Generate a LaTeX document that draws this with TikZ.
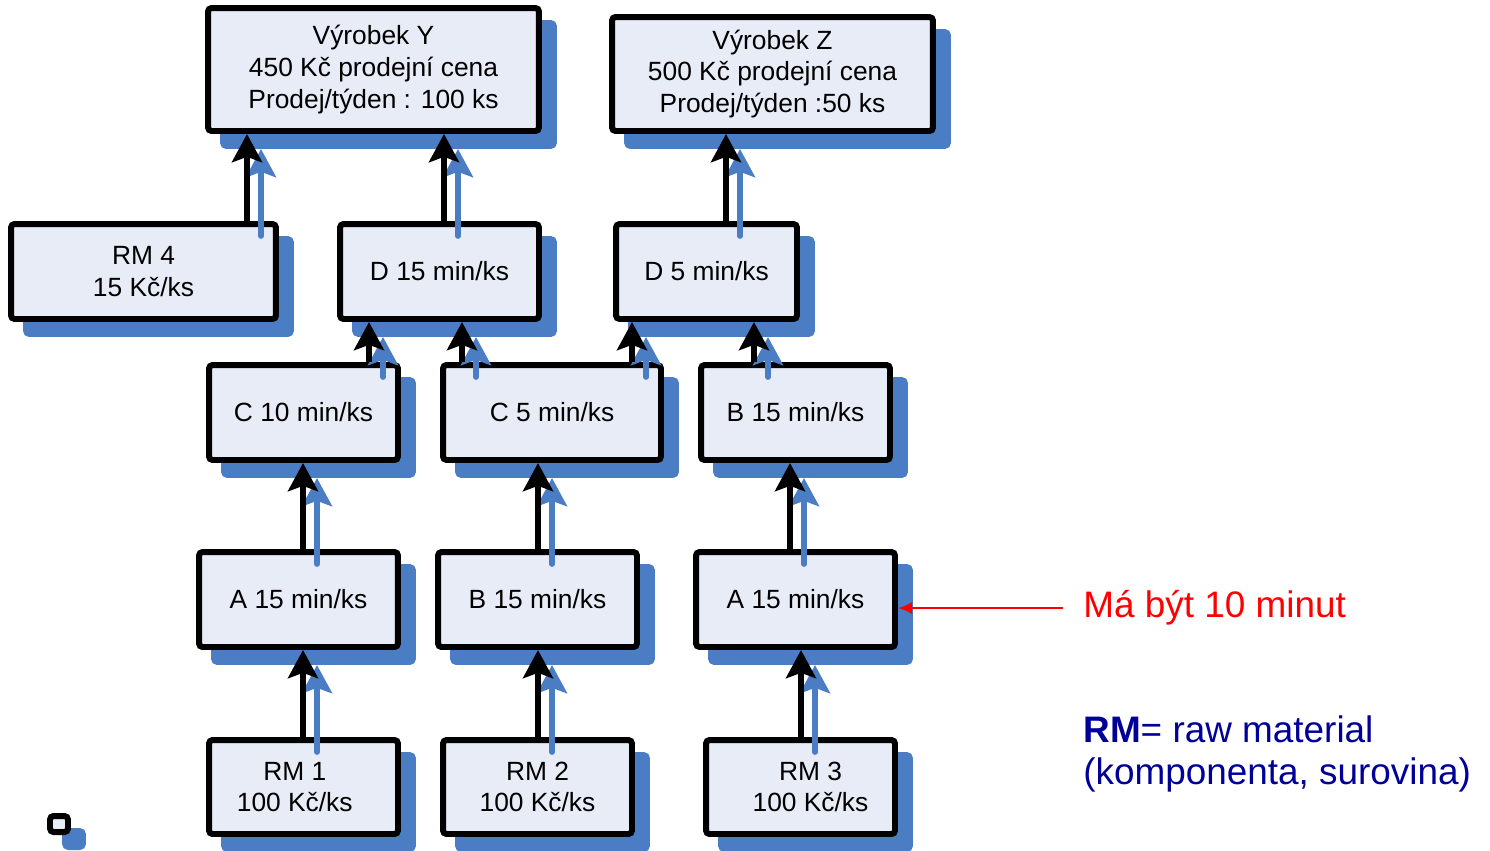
\documentclass[tikz,border=0pt]{standalone}
\usepackage{fontspec}
\setmainfont{Liberation Sans}
\usetikzlibrary{arrows.meta,shadows}
\definecolor{boxfill}{RGB}{231,236,247}
\definecolor{shadowblue}{RGB}{74,125,196}
\definecolor{legendblue}{RGB}{0,0,153}
\tikzset{
  box/.style={draw=black, line width=3.4pt, fill=boxfill, rounded corners=2pt, inner sep=0pt,
    align=center, font=\fontsize{15}{18}\selectfont,
    general shadow={fill=shadowblue, draw=shadowblue, line width=3.4pt, rounded corners=2pt,
      shadow xshift=0.3cm, shadow yshift=-0.3cm}},
  flow/.style={line width=3.4pt, black, -{Stealth[length=16pt,width=17pt,inset=3pt]}},
  shadowflow/.style={line width=3.2pt, shadowblue, line cap=round, -{Stealth[length=16pt,width=17pt,inset=3pt]}}
}
\begin{document}
\begin{tikzpicture}[x=0.02cm,y=-0.02cm]
    \useasboundingbox (0,0) rectangle (1490,850);
    \node[box, minimum width=6.62cm, minimum height=2.46cm] (y) at (373.5,69.5) {Výrobek Y\\450 Kč prodejní cena\\Prodej/týden : 100 ks};
    \node[box, minimum width=6.42cm, minimum height=2.28cm] (z) at (772.5,74) {Výrobek Z\\500 Kč prodejní cena\\Prodej/týden :50 ks};
    \node[box, minimum width=5.3cm, minimum height=1.9cm] (rm4) at (143.5,271.5) {RM 4\\15 Kč/ks};
    \node[box, minimum width=3.98cm, minimum height=1.9cm] (d15) at (439.5,271.5) {D 15 min/ks};
    \node[box, minimum width=3.62cm, minimum height=1.9cm] (d5) at (706.5,271.5) {D 5 min/ks};
    \node[box, minimum width=3.78cm, minimum height=1.9cm] (c10) at (303.5,412.5) {C 10 min/ks};
    \node[box, minimum width=4.36cm, minimum height=1.9cm] (c5) at (552,412.5) {C 5 min/ks};
    \node[box, minimum width=3.78cm, minimum height=1.9cm] (btop) at (795.5,412.5) {B 15 min/ks};
    \node[box, minimum width=3.98cm, minimum height=1.9cm] (aleft) at (298.5,599.5) {A 15 min/ks};
    \node[box, minimum width=3.98cm, minimum height=1.9cm] (bmid) at (537.5,599.5) {B 15 min/ks};
    \node[box, minimum width=3.98cm, minimum height=1.9cm] (aright) at (795.5,599.5) {A 15 min/ks};
    \node[box, minimum width=3.78cm, minimum height=1.88cm] (rm1) at (303.5,787) {RM 1\hspace*{0.35cm}\\100 Kč/ks\hspace*{0.35cm}};
    \node[box, minimum width=3.78cm, minimum height=1.88cm] (rm2) at (537.5,787) {RM 2\\100 Kč/ks};
    \node[box, minimum width=3.78cm, minimum height=1.88cm] (rm3) at (800.5,787) {\hspace*{0.4cm}RM 3\\\hspace*{0.4cm}100 Kč/ks};
    \node[box, minimum width=0.36cm, minimum height=0.32cm] (sq) at (59,824) {};
    \foreach \src/\dst/\xx in {rm4/y/247, d15/y/444, d5/z/726, c10/d15/369, c5/d15/462, c5/d5/632, btop/d5/754,
        aleft/c10/303, bmid/c5/538, aright/btop/790, rm1/aleft/303, rm2/bmid/538, rm3/aright/801}
      \draw[shadowflow] ([shift={(0,15)}]\src.north -| \xx+14,0) -- ([shift={(0,15)}]\dst.south -| \xx+14,0);
    \foreach \src/\dst/\xx in {rm4/y/247, d15/y/444, d5/z/726, c10/d15/369, c5/d15/462, c5/d5/632, btop/d5/754,
        aleft/c10/303, bmid/c5/538, aright/btop/790, rm1/aleft/303, rm2/bmid/538, rm3/aright/801}
      \draw[flow] (\src.north -| \xx,0) -- (\dst.south -| \xx,0);
    \node[anchor=west, inner xsep=0.4cm, inner ysep=0pt, red, font=\fontsize{21}{24}\selectfont] (note) at (1063,608) {Má být 10 minut};
    \draw[red, line width=1.4pt, -{Latex[length=8pt,width=7pt]}] (note.west) -- (note.west -| aright.east);
    \node[anchor=west, inner sep=0pt, align=left, legendblue, font=\fontsize{21}{24.4}\selectfont] (legend) at (1083,754) {\textbf{RM}= raw material\\(komponenta, surovina)};
\end{tikzpicture}
\end{document}
